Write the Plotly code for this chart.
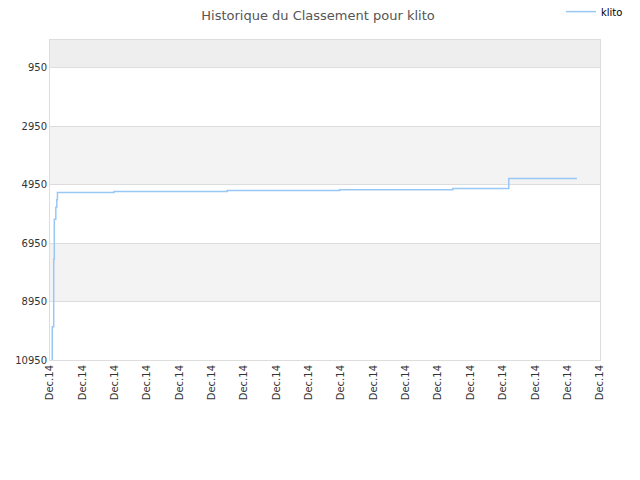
import plotly.graph_objects as go

# step positions (in tick units, 0..17) and ranks
step_x = [0.07, 0.07, 0.115, 0.133, 0.18, 0.21, 0.23, 1.98, 5.48, 8.95, 12.45, 14.18, 16.29]
rank = [10950, 9810, 7490, 6130, 5720, 5470, 5220, 5186, 5150, 5128, 5083, 4741, 4741]

tick_pos = list(range(18))
tick_labels = ["Dec.14"] * 18
y_ticks = [950, 2950, 4950, 6950, 8950, 10950]
y_labels = [str(v) for v in y_ticks]

fig = go.Figure()
fig.add_trace(go.Scatter(
    x=step_x,
    y=rank,
    mode="lines",
    line=dict(color="#99c8f5", width=1.5, shape="hv"),
    name="klito",
))

# alternating background bands
bands = [(0, 950, "#eeeeee"), (2950, 4950, "#f3f3f3"), (6950, 8950, "#f3f3f3")]
for y0, y1, col in bands:
    fig.add_shape(type="rect", xref="paper", yref="y", x0=0, x1=1, y0=y0, y1=y1,
                  fillcolor=col, line_width=0, layer="below")

# page body has an 8px margin, so the figure is shrunk to fit the window
fig.update_layout(
    width=632, height=472,
    margin=dict(l=42, r=40, t=32, b=120, autoexpand=False),
    paper_bgcolor="white",
    plot_bgcolor="white",
    font=dict(family="DejaVu Sans", size=10, color="#333"),
    title=dict(text="Historique du Classement pour klito", x=0.4905, xanchor="center",
               y=1, yanchor="top", pad=dict(t=3), font=dict(size=13, color="#555")),
    legend=dict(x=0.929, y=1.134, xanchor="left", yanchor="top", itemwidth=30,
                font=dict(size=10, color="#000"), bgcolor="rgba(0,0,0,0)"),
    showlegend=True,
)
fig.update_xaxes(
    range=[0, 17], tickvals=tick_pos, ticktext=tick_labels, tickangle=-90,
    showgrid=False, zeroline=False, showline=True, mirror=True,
    linecolor="#dddddd", linewidth=1, ticks="",
)
fig.update_yaxes(
    range=[10950, 0], tickvals=y_ticks, ticktext=y_labels, showgrid=True,
    gridcolor="#dddddd", zeroline=False, showline=True, mirror=True,
    linecolor="#dddddd", linewidth=1, ticks="",
)

fig.write_html("out.html")
